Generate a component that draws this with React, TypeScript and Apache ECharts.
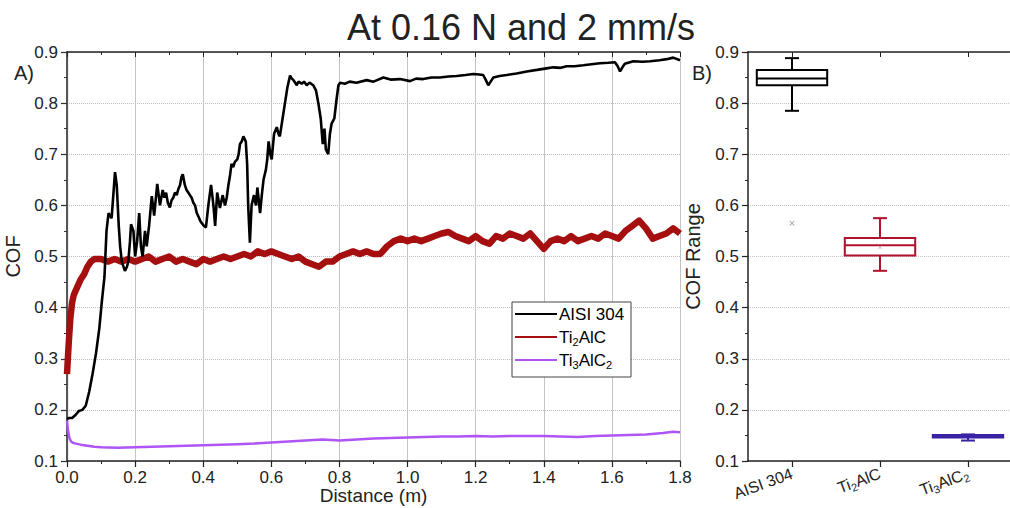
import React, { useEffect, useRef } from "react";
import * as echarts from "echarts";

const titleText = "At 0.16 N and 2 mm/s";
const seriesNames = ["AISI 304", "Ti2AlC", "Ti3AlC2"];

const aisi304: [number, number][] = [
  [0.0, 0.182], [0.005, 0.184], [0.015, 0.184], [0.025, 0.19], [0.035, 0.198], [0.045, 0.2],
  [0.055, 0.208], [0.065, 0.235], [0.075, 0.27], [0.085, 0.31], [0.095, 0.36], [0.102, 0.41],
  [0.11, 0.46], [0.116, 0.55], [0.122, 0.585], [0.126, 0.58], [0.131, 0.575], [0.136, 0.62],
  [0.141, 0.665], [0.146, 0.64], [0.152, 0.56], [0.156, 0.52], [0.161, 0.49], [0.17, 0.472],
  [0.176, 0.48], [0.18, 0.49], [0.185, 0.53], [0.188, 0.563], [0.195, 0.55], [0.2, 0.5],
  [0.206, 0.53], [0.212, 0.585], [0.217, 0.52], [0.222, 0.5], [0.229, 0.55], [0.234, 0.52],
  [0.241, 0.56], [0.249, 0.618], [0.256, 0.58], [0.265, 0.642], [0.273, 0.6], [0.281, 0.63],
  [0.286, 0.615], [0.291, 0.625], [0.296, 0.605], [0.302, 0.596], [0.307, 0.61], [0.312, 0.615],
  [0.317, 0.625], [0.322, 0.62], [0.327, 0.632], [0.332, 0.64], [0.336, 0.655], [0.34, 0.661],
  [0.346, 0.64], [0.351, 0.63], [0.356, 0.625], [0.361, 0.62], [0.366, 0.615], [0.371, 0.605],
  [0.376, 0.6], [0.381, 0.585], [0.386, 0.578], [0.391, 0.57], [0.396, 0.565], [0.402, 0.56],
  [0.408, 0.557], [0.415, 0.6], [0.423, 0.64], [0.43, 0.6], [0.435, 0.56], [0.441, 0.625],
  [0.449, 0.595], [0.457, 0.62], [0.464, 0.6], [0.469, 0.615], [0.474, 0.64], [0.479, 0.66],
  [0.483, 0.681], [0.488, 0.675], [0.493, 0.685], [0.5, 0.69], [0.504, 0.7], [0.508, 0.72],
  [0.513, 0.725], [0.518, 0.735], [0.525, 0.725], [0.529, 0.68], [0.532, 0.6], [0.537, 0.527],
  [0.542, 0.6], [0.549, 0.62], [0.555, 0.6], [0.559, 0.635], [0.563, 0.61], [0.567, 0.585],
  [0.572, 0.62], [0.577, 0.65], [0.584, 0.67], [0.588, 0.69], [0.592, 0.725], [0.597, 0.7],
  [0.601, 0.69], [0.608, 0.74], [0.616, 0.753], [0.621, 0.74], [0.625, 0.735], [0.633, 0.77],
  [0.64, 0.8], [0.647, 0.83], [0.655, 0.854], [0.66, 0.848], [0.665, 0.845], [0.67, 0.84],
  [0.674, 0.835], [0.68, 0.842], [0.689, 0.838], [0.696, 0.842], [0.704, 0.835], [0.712, 0.84],
  [0.723, 0.835], [0.731, 0.825], [0.738, 0.8], [0.745, 0.77], [0.751, 0.72], [0.756, 0.75],
  [0.76, 0.71], [0.767, 0.7], [0.772, 0.74], [0.777, 0.76], [0.785, 0.77], [0.792, 0.81],
  [0.797, 0.835], [0.802, 0.84], [0.816, 0.838], [0.83, 0.842], [0.85, 0.84], [0.88, 0.845],
  [0.9, 0.842], [0.929, 0.85], [0.95, 0.846], [0.978, 0.847], [1.007, 0.843], [1.025, 0.848],
  [1.046, 0.847], [1.07, 0.85], [1.095, 0.85], [1.12, 0.852], [1.144, 0.853], [1.17, 0.855],
  [1.193, 0.857], [1.21, 0.856], [1.222, 0.855], [1.23, 0.845], [1.237, 0.835], [1.244, 0.842],
  [1.252, 0.85], [1.27, 0.853], [1.291, 0.855], [1.32, 0.858], [1.35, 0.862], [1.38, 0.865],
  [1.408, 0.868], [1.428, 0.87], [1.45, 0.869], [1.467, 0.872], [1.49, 0.872], [1.516, 0.874],
  [1.54, 0.876], [1.565, 0.878], [1.59, 0.879], [1.609, 0.88], [1.617, 0.872], [1.624, 0.862],
  [1.631, 0.87], [1.638, 0.877], [1.663, 0.882], [1.69, 0.881], [1.712, 0.882], [1.74, 0.884],
  [1.761, 0.886], [1.78, 0.889], [1.8, 0.884],
];

const ti2alc: [number, number][] = [
  [0, 0.27], [0.005, 0.33], [0.01, 0.38], [0.015, 0.41], [0.02, 0.425], [0.03, 0.44],
  [0.04, 0.455], [0.05, 0.465], [0.06, 0.48], [0.07, 0.49], [0.08, 0.495], [0.1, 0.495],
  [0.12, 0.49], [0.14, 0.495], [0.16, 0.49], [0.18, 0.495], [0.2, 0.49], [0.22, 0.495],
  [0.24, 0.5], [0.26, 0.49], [0.28, 0.495], [0.3, 0.5], [0.32, 0.49], [0.34, 0.495],
  [0.36, 0.49], [0.38, 0.485], [0.4, 0.495], [0.42, 0.49], [0.44, 0.495], [0.46, 0.5],
  [0.48, 0.495], [0.5, 0.5], [0.52, 0.505], [0.54, 0.5], [0.56, 0.51], [0.58, 0.505],
  [0.6, 0.51], [0.62, 0.505], [0.64, 0.5], [0.66, 0.495], [0.68, 0.5], [0.7, 0.49],
  [0.72, 0.485], [0.74, 0.48], [0.76, 0.49], [0.78, 0.49], [0.8, 0.5], [0.82, 0.505],
  [0.84, 0.51], [0.86, 0.505], [0.88, 0.51], [0.9, 0.505], [0.92, 0.505], [0.94, 0.52],
  [0.96, 0.53], [0.98, 0.535], [1.0, 0.53], [1.02, 0.535], [1.04, 0.53], [1.06, 0.535],
  [1.08, 0.54], [1.1, 0.545], [1.12, 0.548], [1.14, 0.54], [1.16, 0.535], [1.18, 0.53],
  [1.2, 0.54], [1.22, 0.53], [1.24, 0.525], [1.26, 0.54], [1.28, 0.535], [1.3, 0.545],
  [1.32, 0.54], [1.34, 0.535], [1.36, 0.545], [1.38, 0.53], [1.4, 0.515], [1.42, 0.53],
  [1.44, 0.535], [1.46, 0.53], [1.48, 0.54], [1.5, 0.53], [1.52, 0.535], [1.54, 0.54],
  [1.56, 0.535], [1.58, 0.545], [1.6, 0.54], [1.62, 0.535], [1.64, 0.55], [1.66, 0.56],
  [1.68, 0.57], [1.7, 0.555], [1.72, 0.535], [1.74, 0.54], [1.76, 0.545], [1.78, 0.555],
  [1.8, 0.545],
];

const ti3alc2: [number, number][] = [
  [0, 0.178], [0.003, 0.16], [0.007, 0.145], [0.012, 0.138], [0.02, 0.135], [0.04, 0.132],
  [0.06, 0.13], [0.08, 0.128], [0.1, 0.127], [0.15, 0.126], [0.2, 0.127], [0.25, 0.128],
  [0.3, 0.129], [0.35, 0.13], [0.4, 0.131], [0.45, 0.132], [0.5, 0.133], [0.55, 0.134],
  [0.6, 0.136], [0.65, 0.138], [0.7, 0.14], [0.75, 0.142], [0.8, 0.14], [0.85, 0.142],
  [0.9, 0.144], [0.95, 0.145], [1.0, 0.146], [1.05, 0.147], [1.1, 0.148], [1.15, 0.148],
  [1.2, 0.149], [1.25, 0.148], [1.3, 0.149], [1.35, 0.149], [1.4, 0.149], [1.45, 0.148],
  [1.5, 0.147], [1.55, 0.149], [1.6, 0.15], [1.65, 0.151], [1.7, 0.152], [1.75, 0.155],
  [1.78, 0.157], [1.8, 0.156],
];

// boxplot: [category index, min, Q1, median, Q3, max]
const boxCategories = ["AISI 304", "Ti2AlC", "Ti3AlC2"];
const boxStats: number[][] = [
  [0, 0.785, 0.835, 0.848, 0.865, 0.888],
  [1, 0.472, 0.502, 0.522, 0.536, 0.575],
  [2, 0.14, 0.146, 0.148, 0.151, 0.152],
];
const outliers: [number, number][] = [[0, 0.565]];
const means: [number, number][] = [[1, 0.518]];

const colors = ["#000000", "#a50f0f", "#b055f5"];
const boxColors = ["#000000", "#b0122e", "#3b22a5"];

const FONT = "Liberation Sans, Arial, sans-serif";
const XMARK = "path://M0,1L1,0L5,4L9,0L10,1L6,5L10,9L9,10L5,6L1,10L0,9L4,5Z";

function labelRich(name: string): string {
  if (name === "Ti2AlC") return "{n|Ti}{s|2}{n|AlC}";
  if (name === "Ti3AlC2") return "{n|Ti}{s|3}{n|AlC}{s|2}";
  return "{n|" + name + "}";
}

export default function App() {
  const ref = useRef<HTMLDivElement>(null);
  useEffect(() => {
    if (!ref.current) return;
    const chart = echarts.init(ref.current, null, { renderer: "svg" });
    const axisLineStyle = { color: "#222", width: 1.5 };
    const yLabel = {
      fontSize: 17,
      fontFamily: FONT,
      color: "#222",
      margin: 9,
      formatter: (v: number) => v.toFixed(1),
    };
    const gridL = { left: 67, top: 52, width: 613, height: 409, containLabel: false, outerBoundsMode: "none" };
    const gridR = { left: 748, top: 52, width: 264, height: 409, containLabel: false, outerBoundsMode: "none" };

    const legendX = 512;
    const legendY = 302;
    const legendRich = {
      n: { fontSize: 17, fontFamily: FONT, color: "#222", lineHeight: 20 },
      s: { fontSize: 11, fontFamily: FONT, color: "#222", lineHeight: 8, verticalAlign: "bottom" },
    };
    const legendEls: any[] = [];
    seriesNames.forEach((n, i) => {
      const yy = legendY + 12 + i * 23;
      legendEls.push({
        type: "line",
        z: 11,
        shape: { x1: legendX + 3, y1: yy, x2: legendX + 45, y2: yy },
        style: { stroke: colors[i], lineWidth: 2 },
      });
      legendEls.push({
        type: "text",
        z: 11,
        x: legendX + 47,
        y: yy,
        style: { text: labelRich(n), rich: legendRich, verticalAlign: "middle" },
      });
    });

    const renderBox = (params: any, api: any) => {
      const cat = api.value(0);
      const pMin = api.coord([cat, api.value(1)]);
      const pQ1 = api.coord([cat, api.value(2)]);
      const pMed = api.coord([cat, api.value(3)]);
      const pQ3 = api.coord([cat, api.value(4)]);
      const pMax = api.coord([cat, api.value(5)]);
      const band = api.size([1, 0])[0];
      const bw = band * 0.8;
      const cap = 7;
      const cx = pMed[0];
      const col = boxColors[params.dataIndex];
      const st = { stroke: col, lineWidth: 2, fill: "none" };
      return {
        type: "group",
        children: [
          { type: "line", shape: { x1: cx, y1: pQ3[1], x2: cx, y2: pMax[1] }, style: st },
          { type: "line", shape: { x1: cx, y1: pQ1[1], x2: cx, y2: pMin[1] }, style: st },
          { type: "line", shape: { x1: cx - cap, y1: pMax[1], x2: cx + cap, y2: pMax[1] }, style: st },
          { type: "line", shape: { x1: cx - cap, y1: pMin[1], x2: cx + cap, y2: pMin[1] }, style: st },
          {
            type: "rect",
            shape: { x: cx - bw / 2, y: pQ3[1], width: bw, height: pQ1[1] - pQ3[1] },
            style: { stroke: col, lineWidth: 2, fill: "#ffffff" },
          },
          { type: "line", shape: { x1: cx - bw / 2, y1: pMed[1], x2: cx + bw / 2, y2: pMed[1] }, style: st },
        ],
      };
    };

    chart.setOption({
      animation: false,
      backgroundColor: "#ffffff",
      title: {
        text: titleText,
        left: 516,
        top: 4,
        textAlign: "center",
        textStyle: { fontSize: 36, fontWeight: "normal", fontFamily: FONT, color: "#222" },
      },
      grid: [gridL, gridR],
      xAxis: [
        {
          type: "value",
          gridIndex: 0,
          min: 0,
          max: 1.8,
          interval: 0.2,
          axisLine: { lineStyle: axisLineStyle },
          axisTick: { show: true, length: 6, lineStyle: { color: "#222", width: 1.2 } },
          minorTick: { show: true, splitNumber: 2, length: 3, lineStyle: { color: "#222" } },
          splitLine: { show: true, lineStyle: { color: "#c4c4c4", width: 1, type: "solid" } },
          axisLabel: { fontSize: 17, fontFamily: FONT, color: "#222", margin: 8, formatter: (v: number) => v.toFixed(1), showMaxLabel: true },
          name: "Distance (m)",
          nameLocation: "middle",
          nameGap: 25,
          nameMoveOverlap: false,
          nameTextStyle: { fontSize: 19, fontFamily: FONT, color: "#222" },
        },
        {
          type: "value",
          gridIndex: 0,
          position: "top",
          min: 0,
          max: 1.8,
          interval: 0.2,
          axisLine: { show: true, lineStyle: axisLineStyle },
          axisTick: { show: true, inside: true, length: 5, lineStyle: { color: "#222" } },
          minorTick: { show: true, splitNumber: 2, length: 3, lineStyle: { color: "#222" } },
          splitLine: { show: false },
          axisLabel: { show: false },
        },
        {
          type: "category",
          gridIndex: 1,
          data: boxCategories,
          boundaryGap: true,
          axisLine: { lineStyle: axisLineStyle },
          axisTick: { show: true, alignWithLabel: true, length: 6, lineStyle: { color: "#222", width: 1.2 } },
          splitLine: { show: false },
          axisLabel: {
            rotate: 20,
            margin: 12,
            interval: 0,
            formatter: (v: string) => labelRich(v),
            rich: {
              n: { fontSize: 16, fontFamily: FONT, color: "#222", lineHeight: 20 },
              s: { fontSize: 11, fontFamily: FONT, color: "#222", lineHeight: 8, verticalAlign: "bottom" },
            },
          },
        },
        {
          type: "category",
          gridIndex: 1,
          position: "top",
          data: boxCategories,
          boundaryGap: true,
          axisLine: { show: true, lineStyle: axisLineStyle },
          axisTick: { show: true, inside: true, alignWithLabel: true, length: 5, lineStyle: { color: "#222" } },
          axisLabel: { show: false },
          splitLine: { show: false },
        },
      ],
      yAxis: [
        {
          type: "value",
          gridIndex: 0,
          min: 0.1,
          max: 0.9,
          interval: 0.1,
          axisLine: { show: true, lineStyle: axisLineStyle },
          axisTick: { show: true, length: 6, lineStyle: { color: "#222", width: 1.2 } },
          minorTick: { show: true, splitNumber: 2, length: 3, lineStyle: { color: "#222" } },
          splitLine: { show: true, lineStyle: { color: "#bdbdbd", width: 1, type: "dotted" } },
          axisLabel: yLabel,
          name: "COF",
          nameLocation: "middle",
          nameGap: 40,
          nameTextStyle: { fontSize: 20, fontFamily: FONT, color: "#222" },
        },
        {
          type: "value",
          gridIndex: 0,
          position: "right",
          min: 0.1,
          max: 0.9,
          interval: 0.1,
          axisLine: { show: true, lineStyle: { color: "#555", width: 1.2 } },
          axisTick: { show: true, inside: true, length: 5, lineStyle: { color: "#333" } },
          minorTick: { show: true, splitNumber: 2, length: 3, lineStyle: { color: "#333" } },
          splitLine: { show: false },
          axisLabel: { show: false },
        },
        {
          type: "value",
          gridIndex: 1,
          min: 0.1,
          max: 0.9,
          interval: 0.1,
          axisLine: { show: true, lineStyle: axisLineStyle },
          axisTick: { show: true, length: 6, lineStyle: { color: "#222", width: 1.2 } },
          minorTick: { show: true, splitNumber: 2, length: 3, lineStyle: { color: "#222" } },
          splitLine: { show: true, lineStyle: { color: "#c4c4c4", width: 1, type: "dotted" } },
          axisLabel: yLabel,
          name: "COF Range",
          nameLocation: "middle",
          nameGap: 45,
          nameTextStyle: { fontSize: 20, fontFamily: FONT, color: "#222" },
        },
      ],
      series: [
        {
          name: seriesNames[1],
          type: "line",
          xAxisIndex: 0,
          yAxisIndex: 0,
          data: ti2alc,
          showSymbol: false,
          lineStyle: { color: colors[1], width: 6.5, join: "round" },
          z: 3,
        },
        {
          name: seriesNames[0],
          type: "line",
          xAxisIndex: 0,
          yAxisIndex: 0,
          data: aisi304,
          showSymbol: false,
          lineStyle: { color: colors[0], width: 2.6 },
          z: 4,
        },
        {
          name: seriesNames[2],
          type: "line",
          xAxisIndex: 0,
          yAxisIndex: 0,
          data: ti3alc2,
          showSymbol: false,
          lineStyle: { color: colors[2], width: 2.5 },
          z: 3,
        },
        {
          type: "custom",
          xAxisIndex: 2,
          yAxisIndex: 2,
          data: boxStats,
          renderItem: renderBox,
          encode: { x: 0, y: [1, 2, 3, 4, 5] },
          z: 3,
        },
        {
          type: "scatter",
          xAxisIndex: 2,
          yAxisIndex: 2,
          data: outliers,
          symbol: XMARK,
          symbolSize: 5,
          itemStyle: { color: "#777" },
          z: 4,
        },
        {
          type: "scatter",
          xAxisIndex: 2,
          yAxisIndex: 2,
          data: means,
          symbol: XMARK,
          symbolSize: 4,
          itemStyle: { color: "#d08090" },
          z: 5,
        },
      ],
      graphic: [
        {
          type: "text",
          x: 14,
          y: 63,
          style: { text: "A)", fontSize: 20, fontFamily: FONT, fill: "#222" },
        },
        {
          type: "text",
          x: 692,
          y: 63,
          style: { text: "B)", fontSize: 20, fontFamily: FONT, fill: "#222" },
        },
        {
          type: "rect",
          z: 10,
          shape: { x: legendX, y: legendY, width: 119, height: 75 },
          style: { fill: "#ffffff", stroke: "#444", lineWidth: 1 },
        },
        ...legendEls,
      ],
    });
    return () => chart.dispose();
  }, []);
  return <div ref={ref} style={{ width: 1010, height: 508, position: "absolute", left: 0, top: 0 }} />;
}
